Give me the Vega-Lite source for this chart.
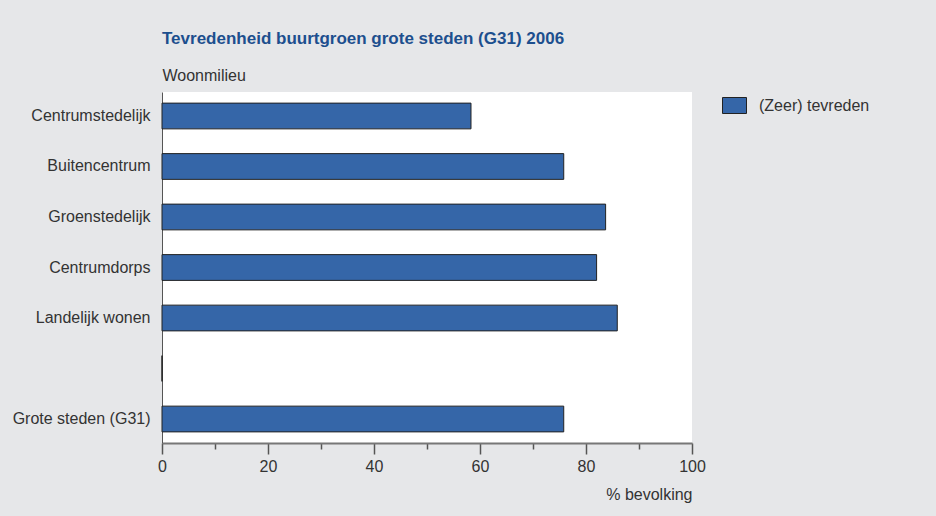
{
  "$schema": "https://vega.github.io/schema/vega-lite/v6.json",
  "width": 530,
  "height": 351,
  "autosize": {"type": "none"},
  "padding": {"left": 162, "top": 92, "right": 244, "bottom": 73},
  "background": "#e6e7e9",
  "config": {
    "view": {"fill": "#ffffff", "stroke": null},
    "font": "Liberation Sans"
  },
  "title": {
    "text": "Tevredenheid buurtgroen grote steden (G31) 2006",
    "anchor": "start",
    "frame": "group",
    "fontSize": 17,
    "fontWeight": "bold",
    "color": "#1d4f8e",
    "font": "Liberation Sans",
    "offset": 19
  },
  "data": {
    "values": [
      {"woonmilieu": "Centrumstedelijk", "pct": 58.3, "serie": "(Zeer) tevreden"},
      {"woonmilieu": "Buitencentrum", "pct": 75.8, "serie": "(Zeer) tevreden"},
      {"woonmilieu": "Groenstedelijk", "pct": 83.7, "serie": "(Zeer) tevreden"},
      {"woonmilieu": "Centrumdorps", "pct": 82.0, "serie": "(Zeer) tevreden"},
      {"woonmilieu": "Landelijk wonen", "pct": 85.9, "serie": "(Zeer) tevreden"},
      {"woonmilieu": " ", "pct": 0, "serie": "(Zeer) tevreden"},
      {"woonmilieu": "Grote steden (G31)", "pct": 75.8, "serie": "(Zeer) tevreden"}
    ]
  },
  "mark": {"type": "bar", "stroke": "#222222", "strokeWidth": 1},
  "encoding": {
    "y": {
      "field": "woonmilieu",
      "type": "nominal",
      "sort": ["Centrumstedelijk", "Buitencentrum", "Groenstedelijk", "Centrumdorps", "Landelijk wonen", " ", "Grote steden (G31)"],
      "scale": {"paddingInner": 0.49, "paddingOuter": 0.22},
      "axis": {
        "title": "Woonmilieu",
        "titleAngle": 0,
        "titleX": 0,
        "titleY": -9,
        "titleAlign": "left",
        "titleBaseline": "bottom",
        "titleFontSize": 16,
        "titleFontWeight": "normal",
        "titleColor": "#333333",
        "ticks": false,
        "labelPadding": 12,
        "labelFontSize": 16,
        "labelColor": "#333333",
        "domainColor": "#555555",
        "domainWidth": 1
      }
    },
    "x": {
      "field": "pct",
      "type": "quantitative",
      "scale": {"domain": [0, 100], "nice": false},
      "axis": {
        "title": "% bevolking",
        "titleAnchor": "end",
        "titleAlign": "right",
        "titleX": 530,
        "titleY": 51,
        "titleBaseline": "middle",
        "titleFontSize": 16,
        "titleFontWeight": "normal",
        "titleColor": "#333333",
        "values": [0, 10, 20, 30, 40, 50, 60, 70, 80, 90, 100],
        "labelExpr": "datum.value % 20 === 0 ? datum.label : ''",
        "tickSize": {"condition": {"test": "datum.value % 20 === 0", "value": 11}, "value": 6},
        "tickColor": "#555555",
        "tickWidth": 1.5,
        "labelFontSize": 16,
        "labelColor": "#333333",
        "labelPadding": 4,
        "labelFlush": false,
        "labelOverlap": false,
        "domainColor": "#777777",
        "domainWidth": 2,
        "grid": false
      }
    },
    "color": {
      "field": "serie",
      "type": "nominal",
      "scale": {"range": ["#3566a8"]},
      "legend": {
        "title": null,
        "orient": "none",
        "legendX": 564,
        "legendY": 5,
        "symbolType": "M-1.5,-1H1.5V1H-1.5Z",
        "symbolSize": 256,
        "symbolStrokeColor": "#222222",
        "symbolStrokeWidth": 1,
        "symbolFillColor": "#3566a8",
        "symbolOpacity": 1,
        "labelFontSize": 16,
        "labelColor": "#333333",
        "labelOffset": 16
      }
    }
  }
}
